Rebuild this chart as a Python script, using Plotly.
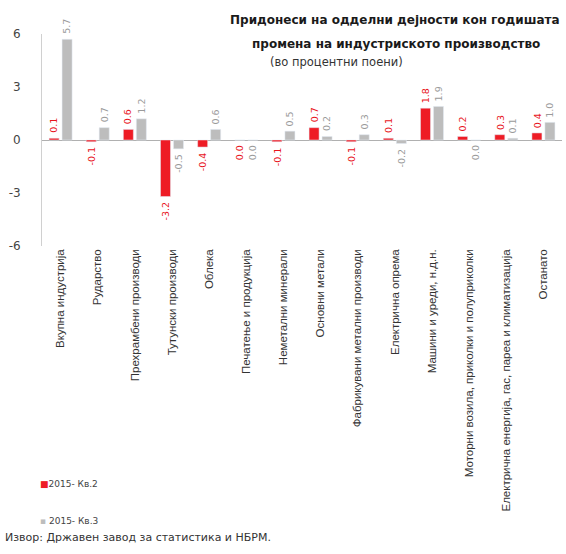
import plotly.graph_objects as go

categories = [
    "Вкупна индустрија",
    "Рударство",
    "Прехрамбени производи",
    "Тутунски производи",
    "Облека",
    "Печатење и продукција",
    "Неметални минерали",
    "Основни метали",
    "Фабрикувани метални производи",
    "Електрична опрема",
    "Машини и уреди, н.д.н.",
    "Моторни возила, приколки и полуприколки",
    "Електрична енергија, гас, пареа и климатизација",
    "Останато",
]
q2_values = [0.1, -0.1, 0.6, -3.2, -0.4, 0.0, -0.1, 0.7, -0.1, 0.1, 1.8, 0.2, 0.3, 0.4]
q3_values = [5.7, 0.7, 1.2, -0.5, 0.6, 0.0, 0.5, 0.2, 0.3, -0.2, 1.9, 0.0, 0.1, 1.0]
series_names = ["2015- Кв.2", "2015- Кв.3"]
y_ticks = [-6, -3, 0, 3, 6]

RED = "#ee1c25"
GRAY = "#bdbdbd"
RED_TXT = "#e8141c"
GRAY_TXT = "#9a9a9a"
FONT = "DejaVu Sans"

x = list(range(len(categories)))
bar_w = 0.27

fig = go.Figure()
fig.add_trace(go.Bar(
    x=x, y=q2_values, name=series_names[0], marker_color=RED,
    width=bar_w, offset=-0.31, showlegend=False,
))
fig.add_trace(go.Bar(
    x=x, y=q3_values, name=series_names[1], marker_color=GRAY,
    width=bar_w, offset=0.04, showlegend=False,
))

# rotated value labels at the end of each bar
annotations = []
for vals, shift, col in [(q2_values, -0.175, RED_TXT), (q3_values, 0.175, GRAY_TXT)]:
    for i, v in enumerate(vals):
        pos = v > 0
        annotations.append(dict(
            x=i + shift, y=v, xref="x", yref="y",
            text=f"{v:.1f}", showarrow=False, textangle=-90,
            yanchor="bottom" if pos else "top",
            yshift=3 if pos else -3,
            font=dict(family=FONT, size=9.5, color=col),
        ))

# titles, legend entries and source note (positions in pixels, converted below)
annotations += [
    dict(text="<b>Придонеси на одделни дејности кон годишата</b>", x=395, y=20,
         xanchor="center", font=dict(family=FONT, size=12, color="#1a1a1a")),
    dict(text="<b>промена на индустриското производство</b>", x=396, y=44,
         xanchor="center", font=dict(family=FONT, size=12, color="#1a1a1a")),
    dict(text="(во процентни поени)", x=336, y=62,
         xanchor="center", font=dict(family=FONT, size=11.5, color="#333333")),
    dict(text=f"<span style='color:{RED}'>■</span>{series_names[0]}", x=38, y=484,
         xanchor="left", font=dict(family=FONT, size=9, color="#444444")),
    dict(text=f"<span style='color:{GRAY}'>▪</span> {series_names[1]}", x=38, y=521,
         xanchor="left", font=dict(family=FONT, size=9, color="#444444")),
    dict(text="Извор: Државен завод за статистика и НБРМ.", x=3, y=537,
         xanchor="left", font=dict(family=FONT, size=11, color="#333333")),
]

W, H = 566, 554
ml, mr, mt, mb = 42, 4, 34, 308
pw, ph = W - ml - mr, H - mt - mb
for a in annotations:
    if "xref" not in a:
        a.update(xref="paper", yref="paper", showarrow=False, yanchor="middle")
        a["x"] = (a["x"] - ml) / pw
        a["y"] = (H - mb - a["y"]) / ph

fig.update_layout(
    width=W, height=H,
    margin=dict(l=ml, r=mr, t=mt, b=mb),
    plot_bgcolor="white", paper_bgcolor="white",
    barmode="overlay",
    showlegend=False,
    annotations=annotations,
    xaxis=dict(
        tickmode="array", tickvals=x, ticktext=categories, tickangle=-90,
        range=[-0.5, len(categories) - 0.5], showgrid=False, showline=False,
        zeroline=False, ticks="",
        tickfont=dict(family="Liberation Sans", size=11.5, color="#333333"),
    ),
    yaxis=dict(
        range=[-6, 6], tickvals=y_ticks, ticktext=[str(t) for t in y_ticks],
        showgrid=False, showline=True, linecolor="#d0d0d0", linewidth=1,
        zeroline=True, zerolinecolor="#b0b0b0", zerolinewidth=1,
        tickfont=dict(family=FONT, size=12, color="#444444"), ticks="",
        ticklabelstandoff=18,
    ),
)

fig.write_html("out.html")
